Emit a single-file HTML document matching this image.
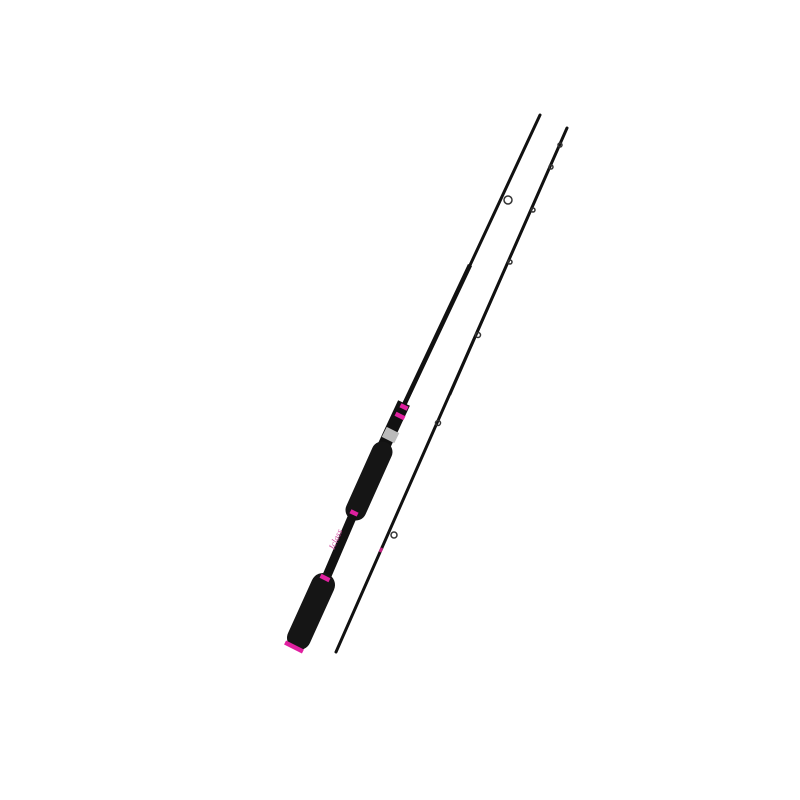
<!DOCTYPE html>
<html><head><meta charset="utf-8"><style>html,body{margin:0;padding:0;background:#fff;width:800px;height:800px;overflow:hidden}</style></head>
<body>
<svg width="800" height="800" viewBox="0 0 800 800" xmlns="http://www.w3.org/2000/svg">
<rect width="800" height="800" fill="#fff"/>
<line x1="336" y1="652" x2="567" y2="128" stroke="#111" stroke-width="3" stroke-linecap="round"/>
<line x1="450" y1="395" x2="567" y2="128" stroke="#111" stroke-width="2.2"/>
<g fill="none" stroke="#333" stroke-width="1.5">
<circle cx="394" cy="535" r="3"/>
<circle cx="438" cy="423" r="2.5"/>
<circle cx="478" cy="335" r="2.5"/>
<circle cx="510" cy="262" r="2"/>
<circle cx="533" cy="210" r="2"/>
<circle cx="551" cy="167" r="2"/>
<circle cx="560" cy="145" r="2"/>
</g>
<line x1="380" y1="552" x2="382" y2="548" stroke="#c02080" stroke-width="3"/>
<line x1="355" y1="512" x2="540" y2="115" stroke="#111" stroke-width="3" stroke-linecap="round"/>
<line x1="385" y1="445" x2="470" y2="265" stroke="#111" stroke-width="4.5"/>
<circle cx="508" cy="200" r="4" fill="none" stroke="#333" stroke-width="1.5"/>
<line x1="383" y1="448" x2="404" y2="403" stroke="#111" stroke-width="13"/>
<line x1="388" y1="440" x2="393" y2="430" stroke="#bbb" stroke-width="14"/>
<line x1="399" y1="418" x2="401" y2="414" stroke="#e020a0" stroke-width="10"/>
<line x1="403" y1="409" x2="405" y2="405" stroke="#e020a0" stroke-width="8"/>
<line x1="382" y1="452" x2="356" y2="510" stroke="#151515" stroke-width="21" stroke-linecap="round"/>
<line x1="353" y1="515" x2="355" y2="511" stroke="#e020a0" stroke-width="8"/>
<line x1="353" y1="515" x2="326" y2="578" stroke="#111" stroke-width="9"/>
<text x="0" y="0" transform="translate(334,550) rotate(-66)" font-family="Liberation Serif, serif" font-style="italic" font-size="9" fill="#d050a0">Iclass</text>
<line x1="323" y1="585" x2="299" y2="638" stroke="#151515" stroke-width="24" stroke-linecap="round"/>
<line x1="324" y1="580" x2="326" y2="576" stroke="#e020a0" stroke-width="10"/>
<line x1="293" y1="649" x2="295" y2="645" stroke="#e020a0" stroke-width="20"/>
</svg>
</body></html>
